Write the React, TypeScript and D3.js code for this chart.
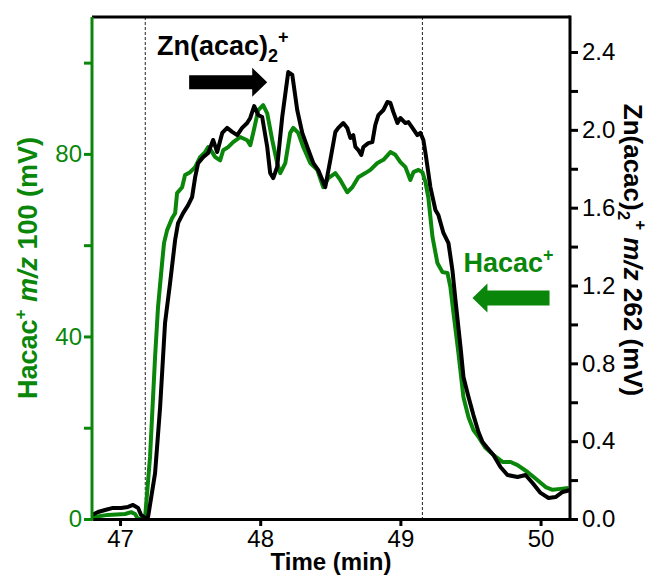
import React, { useEffect, useRef } from 'react';
import * as d3 from 'd3';

// Hacac+ m/z 100 (left axis, mV)
const hacacTime = [46.8, 46.914, 47.036, 47.079, 47.107, 47.129, 47.164, 47.179, 47.214, 47.25, 47.271, 47.3, 47.314, 47.336, 47.371, 47.393, 47.407, 47.443, 47.464, 47.5, 47.536, 47.571, 47.607, 47.629, 47.657, 47.679, 47.714, 47.736, 47.771, 47.807, 47.857, 47.907, 47.929, 47.95, 47.986, 48.021, 48.05, 48.086, 48.121, 48.143, 48.179, 48.214, 48.236, 48.271, 48.307, 48.357, 48.407, 48.45, 48.486, 48.536, 48.571, 48.621, 48.657, 48.7, 48.75, 48.786, 48.836, 48.879, 48.929, 48.964, 49.0, 49.036, 49.071, 49.093, 49.129, 49.157, 49.179, 49.2, 49.229, 49.264, 49.3, 49.336, 49.357, 49.379, 49.414, 49.45, 49.486, 49.521, 49.557, 49.607, 49.664, 49.729, 49.786, 49.836, 49.907, 49.979, 50.036, 50.086, 50.143, 50.2];
const hacacValue = [0.4, 0.9, 1.1, 1.5, 1.1, 0, 0, 0.4, 13.6, 35.5, 46.4, 56.1, 60.5, 63.3, 65.9, 67.0, 71.4, 72.7, 75.4, 76.0, 77.1, 79.3, 80.4, 81.5, 80.4, 79.3, 78.6, 80.8, 81.5, 82.6, 83.7, 83.0, 81.9, 84.6, 89.6, 90.7, 88.9, 83.0, 78.0, 75.8, 78.0, 84.6, 85.7, 84.6, 81.5, 78.0, 76.5, 72.7, 74.7, 75.8, 74.3, 71.6, 72.7, 74.9, 75.8, 76.5, 78.0, 78.7, 80.4, 79.8, 78.2, 77.1, 74.3, 76.0, 76.5, 76.0, 73.8, 70.3, 61.8, 56.1, 54.1, 53.9, 50.8, 45.1, 36.4, 26.7, 22.3, 19.5, 18.0, 15.6, 14.0, 12.5, 12.5, 11.8, 10.3, 8.5, 7.0, 6.4, 6.6, 6.8];

// Zn(acac)2+ m/z 262 (right axis, mV)
const znTime = [46.8, 46.843, 46.893, 46.95, 47.007, 47.057, 47.093, 47.129, 47.15, 47.179, 47.2, 47.25, 47.286, 47.321, 47.357, 47.393, 47.414, 47.45, 47.486, 47.514, 47.536, 47.557, 47.593, 47.629, 47.664, 47.693, 47.729, 47.764, 47.8, 47.836, 47.871, 47.907, 47.929, 47.957, 47.986, 48.014, 48.05, 48.071, 48.093, 48.121, 48.157, 48.2, 48.229, 48.264, 48.3, 48.336, 48.379, 48.414, 48.464, 48.5, 48.536, 48.557, 48.593, 48.621, 48.643, 48.664, 48.679, 48.7, 48.721, 48.736, 48.771, 48.8, 48.821, 48.843, 48.879, 48.907, 48.929, 48.95, 48.979, 49.0, 49.036, 49.057, 49.086, 49.121, 49.143, 49.164, 49.179, 49.214, 49.25, 49.271, 49.307, 49.343, 49.371, 49.393, 49.429, 49.45, 49.486, 49.521, 49.557, 49.586, 49.621, 49.664, 49.714, 49.764, 49.836, 49.893, 49.943, 50.0, 50.057, 50.107, 50.157, 50.214];
const znValue = [0.021, 0.036, 0.046, 0.057, 0.057, 0.062, 0.072, 0.057, 0.021, 0.005, 0.01, 0.236, 0.576, 1.007, 1.213, 1.434, 1.521, 1.572, 1.613, 1.654, 1.757, 1.829, 1.86, 1.881, 1.948, 1.886, 1.984, 2.01, 1.99, 1.973, 2.01, 2.035, 2.061, 2.122, 2.076, 2.066, 1.912, 1.778, 1.752, 1.809, 2.066, 2.297, 2.282, 2.102, 1.984, 1.912, 1.829, 1.793, 1.706, 1.845, 1.989, 2.01, 2.035, 2.01, 1.958, 1.973, 1.912, 1.896, 1.871, 1.912, 1.932, 1.937, 2.025, 2.076, 2.102, 2.143, 2.138, 2.091, 2.035, 2.061, 2.035, 2.04, 2.01, 1.973, 1.984, 1.948, 1.881, 1.706, 1.588, 1.562, 1.47, 1.418, 1.28, 1.125, 0.884, 0.73, 0.627, 0.534, 0.447, 0.396, 0.365, 0.329, 0.267, 0.226, 0.216, 0.226, 0.185, 0.134, 0.108, 0.113, 0.139, 0.149];

const timeTicks = [47, 48, 49, 50];
const leftTicks = [0, 20, 40, 60, 80, 100];
const rightTicks = [0, 0.2, 0.4, 0.6, 0.8, 1.0, 1.2, 1.4, 1.6, 1.8, 2.0, 2.2, 2.4];
const markerTimes = [47.18, 49.157];

const GREEN = '#0a870a';
const FONT = '"Liberation Sans", Arial, sans-serif';

const App = () => {
  const ref = useRef<SVGSVGElement>(null);

  useEffect(() => {
    document.body.style.margin = '0';
    const W = 651, H = 577;
    const margin = { top: 17, right: 81, bottom: 58, left: 92 };
    const width = W - margin.left - margin.right;
    const height = H - margin.top - margin.bottom;

    const svg = d3.select(ref.current).attr('width', W).attr('height', H);
    svg.selectAll('*').remove();

    const g = svg.append('g').attr('transform', `translate(${margin.left},${margin.top})`);

    const x = d3.scaleLinear().domain([46.8, 50.21]).range([0, width]);
    const yL = d3.scaleLinear().domain([0, 110]).range([height, 0]);
    const yR = d3.scaleLinear().domain([0, 2.58]).range([height, 0]);

    svg.append('defs').append('clipPath').attr('id', 'plot-clip')
      .append('rect').attr('x', 0).attr('y', -2).attr('width', width).attr('height', height + 2);

    // dashed markers
    g.selectAll('.marker')
      .data(markerTimes)
      .enter().append('line')
      .attr('x1', d => x(d)).attr('x2', d => x(d))
      .attr('y1', 0).attr('y2', height)
      .attr('stroke', '#222').attr('stroke-width', 1)
      .attr('stroke-dasharray', '3,2');

    const plot = g.append('g').attr('clip-path', 'url(#plot-clip)');

    const lineL = d3.line<number>().x((d, i) => x(hacacTime[i])).y(d => yL(d));
    const lineR = d3.line<number>().x((d, i) => x(znTime[i])).y(d => yR(d));

    plot.append('path').datum(hacacValue)
      .attr('d', lineL).attr('fill', 'none')
      .attr('stroke', GREEN).attr('stroke-width', 4).attr('stroke-linejoin', 'round');

    plot.append('path').datum(znValue)
      .attr('d', lineR).attr('fill', 'none')
      .attr('stroke', '#000').attr('stroke-width', 4).attr('stroke-linejoin', 'round');

    // top border
    g.append('line').attr('x1', 0).attr('x2', width).attr('y1', 0).attr('y2', 0)
      .attr('stroke', '#000').attr('stroke-width', 3);

    // bottom axis
    const xAxis = g.append('g').attr('transform', `translate(0,${height})`)
      .call(d3.axisBottom(x).tickValues(timeTicks).tickFormat(d3.format('d')).tickSize(7).tickPadding(4).tickSizeOuter(0));
    xAxis.select('.domain').attr('stroke', '#000').attr('stroke-width', 3);
    xAxis.selectAll('.tick line').attr('stroke', '#000').attr('stroke-width', 3);
    xAxis.selectAll('text').attr('fill', '#000').style('font-family', FONT).style('font-size', '24px');

    // left axis
    const leftAxis = g.append('g')
      .call(d3.axisLeft(yL).tickValues(leftTicks).tickFormat(d => (+d % 40 === 0 ? String(d) : '')).tickSize(8).tickPadding(2).tickSizeOuter(0));
    leftAxis.select('.domain').attr('stroke', GREEN).attr('stroke-width', 3)
      .attr('d', `M0,${height + 1.5}V0`);
    leftAxis.selectAll('.tick line').attr('stroke', GREEN).attr('stroke-width', 3);
    leftAxis.selectAll('text').attr('fill', GREEN).style('font-family', FONT).style('font-size', '24px');

    // right axis
    const rightAxis = g.append('g').attr('transform', `translate(${width},0)`)
      .call(d3.axisRight(yR).tickValues(rightTicks)
        .tickFormat(d => (Math.round(+d * 10) % 4 === 0 ? d3.format('.1f')(+d) : ''))
        .tickSize(8).tickPadding(4).tickSizeOuter(0));
    rightAxis.select('.domain').attr('stroke', '#000').attr('stroke-width', 3)
      .attr('d', `M0,${height + 1.5}V-1.5`);
    rightAxis.selectAll('.tick line').attr('stroke', '#000').attr('stroke-width', 3);
    rightAxis.selectAll('text').attr('fill', '#000').style('font-family', FONT).style('font-size', '24px');

    // axis titles
    svg.append('text')
      .attr('x', margin.left + width / 2).attr('y', 570)
      .attr('text-anchor', 'middle')
      .style('font-family', FONT).style('font-size', '24px').style('font-weight', 'bold')
      .text('Time (min)');

    const leftTitle = svg.append('text')
      .attr('transform', `translate(37,${margin.top + height / 2}) rotate(-90)`)
      .attr('text-anchor', 'middle')
      .attr('fill', GREEN)
      .style('font-family', FONT).style('font-size', '27px').style('font-weight', 'bold');
    leftTitle.append('tspan').text('Hacac');
    leftTitle.append('tspan').attr('dy', -11).style('font-size', '17px').text('+');
    leftTitle.append('tspan').attr('dy', 11).text(' ');
    leftTitle.append('tspan').style('font-style', 'italic').text('m/z');
    leftTitle.append('tspan').text(' 100 (mV)');

    const rightTitle = svg.append('text')
      .attr('transform', `translate(624,250) rotate(90)`)
      .attr('text-anchor', 'middle')
      .attr('fill', '#000')
      .style('font-family', FONT).style('font-size', '26px').style('font-weight', 'bold');
    rightTitle.append('tspan').text('Zn(acac)');
    rightTitle.append('tspan').attr('dy', 6).style('font-size', '17px').text('2');
    rightTitle.append('tspan').attr('dy', -17).style('font-size', '17px').text('+');
    rightTitle.append('tspan').attr('dy', 11).text(' ');
    rightTitle.append('tspan').style('font-style', 'italic').text('m/z');
    rightTitle.append('tspan').text(' 262 (mV)');

    // annotations
    const znLabel = g.append('text')
      .attr('x', x(47.264)).attr('y', yL(101.7))
      .style('font-family', FONT).style('font-size', '27px').style('font-weight', 'bold');
    znLabel.append('tspan').text('Zn(acac)');
    znLabel.append('tspan').attr('dy', 7).style('font-size', '18px').text('2');
    znLabel.append('tspan').attr('dy', -19).style('font-size', '18px').text('+');

    const arrowPath = (x0: number, x1: number, yc: number, shaft: number, head: number, headLen: number) => {
      const dir = x1 > x0 ? 1 : -1;
      const xh = x1 - dir * headLen;
      return `M${x0},${yc - shaft / 2}L${xh},${yc - shaft / 2}L${xh},${yc - head / 2}L${x1},${yc}` +
        `L${xh},${yc + head / 2}L${xh},${yc + shaft / 2}L${x0},${yc + shaft / 2}Z`;
    };

    g.append('path')
      .attr('d', arrowPath(x(47.493), x(48.05), yL(95.7), 14, 29, 15))
      .attr('fill', '#000');

    const hLabel = g.append('text')
      .attr('x', x(49.45)).attr('y', yL(54.1))
      .attr('fill', GREEN)
      .style('font-family', FONT).style('font-size', '27px').style('font-weight', 'bold');
    hLabel.append('tspan').text('Hacac');
    hLabel.append('tspan').attr('dy', -11).style('font-size', '18px').text('+');

    g.append('path')
      .attr('d', arrowPath(x(50.064), x(49.514), yL(48.4), 15, 29, 15))
      .attr('fill', GREEN);
  }, []);

  return <svg ref={ref}></svg>;
};

export default App;
